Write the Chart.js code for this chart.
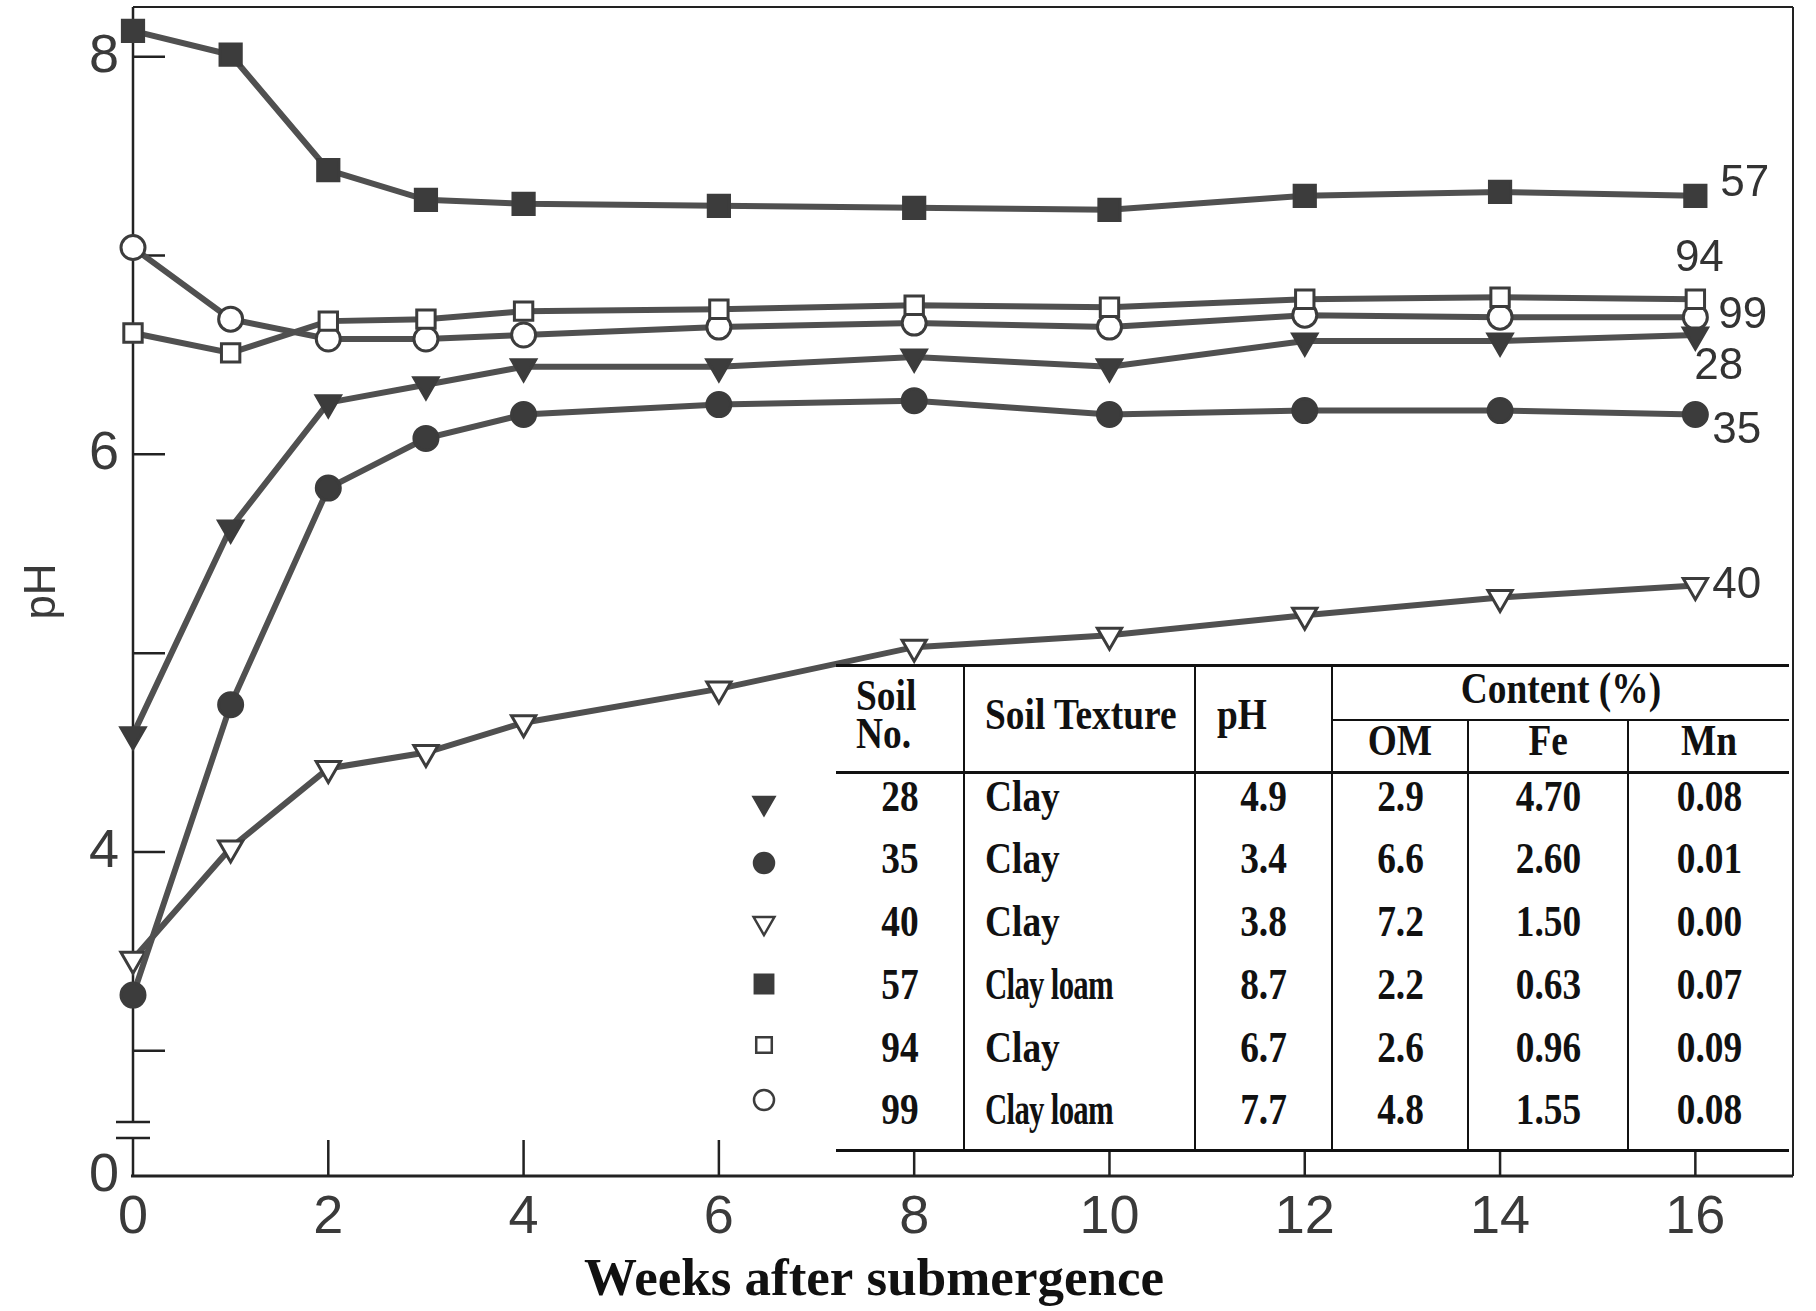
<!DOCTYPE html>
<html>
<head>
<meta charset="utf-8">
<script src="https://cdn.jsdelivr.net/npm/chart.js@4.4.0/dist/chart.umd.min.js"></script>
<style>
  html, body { margin: 0; padding: 0; background: #fff; }
  #wrap { position: relative; width: 1816px; height: 1311px; }
  #soilTable {
    position: absolute; left: 836px; top: 664px; width: 953px;
    border-collapse: collapse; table-layout: fixed; background: #fff;
    font-family: "Liberation Serif", serif; font-weight: bold; font-size: 44px; color: #111;
    border-top: 3px solid #111; border-bottom: 3px solid #111;
  }
  #soilTable td, #soilTable th { padding: 0; font-weight: bold; white-space: nowrap; line-height: 46px; }
  #soilTable .sq { display: inline-block; transform: scaleX(0.85); position: relative; }
  #soilTable .left .sq { transform-origin: left center; }
  #soilTable .vl { border-left: 2px solid #111; }
  #soilTable tr.h1 { height: 54px; }
  #soilTable tr.h1 .sq { top: -4px; }
  #soilTable tr.h2 { height: 53px; }
  #soilTable tr.h2 th { border-top: 2px solid #111; border-bottom: 3px solid #111; }
  #soilTable tr.h2 .sq { top: -5px; }
  #soilTable th.rs { border-bottom: 3px solid #111; }
  #soilTable tr.row { height: 63px; }
  #soilTable tr.row .sq { top: -8px; }
  .c { text-align: center; }
  .left { text-align: left; }
</style>
</head>
<body>
<div id="wrap">
  <canvas id="phChart" width="1816" height="1311"></canvas>
  <table id="soilTable"></table>
</div>
<script>
// weeks after submergence
var weeks = [0, 1, 2, 3, 4, 6, 8, 10, 12, 14, 16];

// pH of each soil
var ph28 = [4.59, 5.63, 6.26, 6.35, 6.44, 6.44, 6.49, 6.44, 6.57, 6.57, 6.60];
var ph35 = [3.28, 4.74, 5.83, 6.08, 6.20, 6.25, 6.27, 6.20, 6.22, 6.22, 6.20];
var ph40 = [3.46, 4.02, 4.42, 4.50, 4.65, 4.82, 5.03, 5.09, 5.19, 5.28, 5.34];
var ph57 = [8.13, 8.01, 7.43, 7.28, 7.26, 7.25, 7.24, 7.23, 7.30, 7.32, 7.30];
var ph94 = [6.61, 6.51, 6.67, 6.68, 6.72, 6.73, 6.75, 6.74, 6.78, 6.79, 6.78];
var ph99 = [7.04, 6.68, 6.58, 6.58, 6.60, 6.64, 6.66, 6.64, 6.70, 6.69, 6.69];

var xTicks = [0, 2, 4, 6, 8, 10, 12, 14, 16];
var yTicks = [2.37, 3, 4, 5, 6, 7, 8];
var yTickLabels = ["0", "", "4", "", "6", "", "8"];

// inset table
var soilNo = ["28", "35", "40", "57", "94", "99"];
var soilTexture = ["Clay", "Clay", "Clay", "Clay loam", "Clay", "Clay loam"];
var soilPH = ["4.9", "3.4", "3.8", "8.7", "6.7", "7.7"];
var contentOM = ["2.9", "6.6", "7.2", "2.2", "2.6", "4.8"];
var contentFe = ["4.70", "2.60", "1.50", "0.63", "0.96", "1.55"];
var contentMn = ["0.08", "0.01", "0.00", "0.07", "0.09", "0.08"];

var series = [ph28, ph35, ph40, ph57, ph94, ph99];
var lineColor = "#505050";
var markColor = "#3c3c3c";
var styles = [
  {pointStyle: "triangle", rotation: 180, radius: 14, fill: markColor},
  {pointStyle: "circle", rotation: 0, radius: 12, fill: markColor},
  {pointStyle: "triangle", rotation: 180, radius: 14, fill: "#fff"},
  {pointStyle: "rect", rotation: 0, radius: 15, fill: markColor},
  {pointStyle: "rect", rotation: 0, radius: 13, fill: "#fff"},
  {pointStyle: "circle", rotation: 0, radius: 12, fill: "#fff"}
];
// end labels: offset from last point, and alignment
var endLabelPos = [
  {dx: -1, dy: 32, align: "left"},
  {dx: 17, dy: 16, align: "left"},
  {dx: 17, dy: 0, align: "left"},
  {dx: 25, dy: -12, align: "left"},
  {dx: 4, dy: -40, align: "center"},
  {dx: 23, dy: -1, align: "left"}
];
var legendX = 764;
var legendY = [803, 863, 923, 984, 1045, 1100];

var datasets = [];
for (var i = 0; i < series.length; i++) {
  datasets.push({
    label: soilNo[i],
    data: weeks.map(function (w, j) { return {x: w, y: series[i][j]}; }),
    borderColor: lineColor,
    borderWidth: 6,
    pointStyle: styles[i].pointStyle,
    pointRotation: styles[i].rotation,
    pointRadius: styles[i].radius,
    pointHoverRadius: styles[i].radius,
    pointBackgroundColor: styles[i].fill,
    pointBorderColor: markColor,
    pointBorderWidth: 3,
    tension: 0,
    clip: false
  });
}

var decor = {
  id: "decor",
  beforeDatasetsDraw: function (chart) {
    var ctx = chart.ctx, a = chart.chartArea;
    var xs = chart.scales.x, ys = chart.scales.y;
    ctx.save();
    ctx.strokeStyle = "#222";
    ctx.lineCap = "butt";
    // top and right frame
    ctx.lineWidth = 2;
    ctx.beginPath();
    ctx.moveTo(a.left, a.top); ctx.lineTo(a.right, a.top);
    ctx.moveTo(a.right, a.top); ctx.lineTo(a.right, a.bottom);
    ctx.stroke();
    // left axis with a break near the bottom
    var b1 = 1122, b2 = 1138;
    ctx.lineWidth = 2.5;
    ctx.beginPath();
    ctx.moveTo(a.left, a.top); ctx.lineTo(a.left, b1);
    ctx.moveTo(a.left, b2); ctx.lineTo(a.left, a.bottom);
    ctx.moveTo(a.left - 17, b1); ctx.lineTo(a.left + 17, b1);
    ctx.moveTo(a.left - 17, b2); ctx.lineTo(a.left + 17, b2);
    ctx.stroke();
    // bottom axis
    ctx.lineWidth = 3;
    ctx.beginPath();
    ctx.moveTo(a.left - 2, a.bottom); ctx.lineTo(a.right, a.bottom);
    ctx.stroke();
    // inward tick marks
    ctx.lineWidth = 2.5;
    ctx.beginPath();
    yTicks.forEach(function (v, k) {
      if (k === 0) return;
      var py = ys.getPixelForValue(v);
      ctx.moveTo(a.left, py); ctx.lineTo(a.left + 32, py);
    });
    xTicks.forEach(function (v, k) {
      if (k === 0) return;
      var px = xs.getPixelForValue(v);
      ctx.moveTo(px, a.bottom); ctx.lineTo(px, a.bottom - 36);
    });
    ctx.stroke();
    ctx.restore();
  },
  afterDraw: function (chart) {
    var ctx = chart.ctx;
    ctx.save();
    // labels at the line ends
    ctx.fillStyle = "#333";
    ctx.font = "44px 'Liberation Sans', sans-serif";
    ctx.textBaseline = "middle";
    chart.data.datasets.forEach(function (ds, i) {
      var meta = chart.getDatasetMeta(i);
      var pt = meta.data[meta.data.length - 1];
      ctx.textAlign = endLabelPos[i].align;
      ctx.fillText(ds.label, pt.x + endLabelPos[i].dx, pt.y + endLabelPos[i].dy);
    });
    // legend symbols beside the table rows
    styles.forEach(function (s, i) {
      ctx.fillStyle = s.fill;
      ctx.strokeStyle = markColor;
      ctx.lineWidth = 2.5;
      Chart.helpers.drawPoint(ctx, {
        pointStyle: s.pointStyle, rotation: s.rotation,
        radius: s.radius - 2, borderWidth: 2.5
      }, legendX, legendY[i]);
    });
    // x axis title
    ctx.fillStyle = "#111";
    ctx.font = "bold 53px 'Liberation Serif', serif";
    ctx.textAlign = "center";
    ctx.fillText("Weeks after submergence", 874, 1281);
    ctx.restore();
  }
};

new Chart("phChart", {
  type: "line",
  data: {datasets: datasets},
  options: {
    responsive: false,
    animation: false,
    layout: {autoPadding: false, padding: {left: 0, top: 7, right: 23, bottom: 0}},
    plugins: {legend: {display: false}, tooltip: {enabled: false}},
    scales: {
      x: {
        type: "linear",
        min: 0,
        max: 17,
        afterBuildTicks: function (scale) {
          scale.ticks = xTicks.map(function (v) { return {value: v}; });
        },
        afterFit: function (scale) {
          scale.height = 135;
          scale.paddingLeft = 0;
          scale.paddingRight = 0;
        },
        grid: {display: false, drawTicks: false},
        border: {display: false},
        ticks: {
          autoSkip: false,
          maxRotation: 0,
          padding: 10,
          color: "#3a3a3a",
          font: {family: "'Liberation Sans', sans-serif", size: 54}
        }
      },
      y: {
        type: "linear",
        min: 2.37,
        max: 8.25,
        afterBuildTicks: function (scale) {
          scale.ticks = yTicks.map(function (v) { return {value: v}; });
        },
        afterFit: function (scale) {
          scale.width = 133;
          scale.paddingTop = 0;
          scale.paddingBottom = 0;
        },
        grid: {display: false, drawTicks: false},
        border: {display: false},
        title: {
          display: true,
          text: "pH",
          color: "#3a3a3a",
          padding: {top: 16, bottom: 0},
          font: {family: "'Liberation Sans', sans-serif", size: 44}
        },
        ticks: {
          autoSkip: false,
          padding: 14,
          color: "#3a3a3a",
          font: {family: "'Liberation Sans', sans-serif", size: 54},
          callback: function (value, index) { return yTickLabels[index]; }
        }
      }
    }
  },
  plugins: [decor]
});

// build the inset table
function sq(t) { return '<span class="sq">' + t + '</span>'; }
var html = '<colgroup><col style="width:128px"><col style="width:231px"><col style="width:137px">' +
  '<col style="width:136px"><col style="width:160px"><col style="width:161px"></colgroup>';
html += '<tr class="h1"><th class="rs left" rowspan="2" style="padding-left:20px;line-height:38px">' + sq("Soil<br>No.") + '</th>' +
  '<th class="rs left vl" rowspan="2" style="padding-left:20px">' + sq("Soil Texture") + '</th>' +
  '<th class="rs left vl" rowspan="2" style="padding-left:21px">' + sq("pH") + '</th>' +
  '<th class="c vl" colspan="3">' + sq("Content (%)") + '</th></tr>';
html += '<tr class="h2"><th class="c vl">' + sq("OM") + '</th><th class="c vl">' + sq("Fe") + '</th><th class="c vl">' + sq("Mn") + '</th></tr>';
for (var r = 0; r < soilNo.length; r++) {
  var tex = soilTexture[r].indexOf(" ") > 0
    ? '<span class="sq" style="transform:scaleX(0.7);letter-spacing:-1px">' + soilTexture[r] + '</span>'
    : sq(soilTexture[r]);
  html += '<tr class="row"><td class="c">' + sq(soilNo[r]) + '</td>' +
    '<td class="left vl" style="padding-left:20px">' + tex + '</td>' +
    '<td class="c vl">' + sq(soilPH[r]) + '</td>' +
    '<td class="c vl">' + sq(contentOM[r]) + '</td>' +
    '<td class="c vl">' + sq(contentFe[r]) + '</td>' +
    '<td class="c vl">' + sq(contentMn[r]) + '</td></tr>';
}
document.getElementById("soilTable").innerHTML = html;
</script>
</body>
</html>
